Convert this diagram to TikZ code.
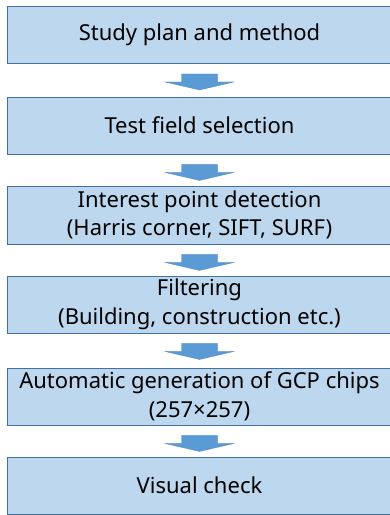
\documentclass[tikz,border=0pt]{standalone}
\usepackage{fontspec}
\setmainfont{Noto Sans}
\usetikzlibrary{calc}
\definecolor{boxfill}{HTML}{BDD7EE}
\definecolor{boxline}{HTML}{41719C}
\definecolor{arrfill}{HTML}{5B9BD5}
\begin{document}
\begin{tikzpicture}[x=1pt,y=-1pt,
  stepbox/.style={draw=boxline,line width=0.9pt,fill=boxfill,minimum width=385pt,
    minimum height=57pt,inner sep=0pt,align=center,
    font=\fontsize{22}{28.5}\selectfont},
  blockarr/.style={fill=arrfill,draw=arrfill!85!black,line width=0.3pt}]
\useasboundingbox (0,0) rectangle (389,515);
\node[stepbox] (b1) at (199.5,35) {Study plan and method};
\node[stepbox] (b2) at (199.5,125.5) {Test field selection};
\node[stepbox,minimum height=58pt] (b3) at (199.5,215) {Interest point detection\\(Harris corner, SIFT, SURF)};
\node[stepbox] (b4) at (199.5,304.5) {Filtering\\(Building, construction etc.)};
\node[stepbox] (b5) at (199.5,396.5) {Automatic generation of GCP chips\\(257×257)};
\node[stepbox] (b6) at (199.5,485.5) {Visual check};
\foreach \a/\b in {b1/b2,b2/b3,b3/b4,b4/b5,b5/b6}{
  \coordinate (t) at ($(\a.south)+(0,10)$);
  \fill[blockarr] ($(t)+(-18,0)$) -- ($(t)+(18,0)$) -- ($(t)+(18,8)$) -- ($(t)+(34.5,8)$)
    -- ($(t)+(0,16)$) -- ($(t)+(-34.5,8)$) -- ($(t)+(-18,8)$) -- cycle;
}
\end{tikzpicture}
\end{document}
